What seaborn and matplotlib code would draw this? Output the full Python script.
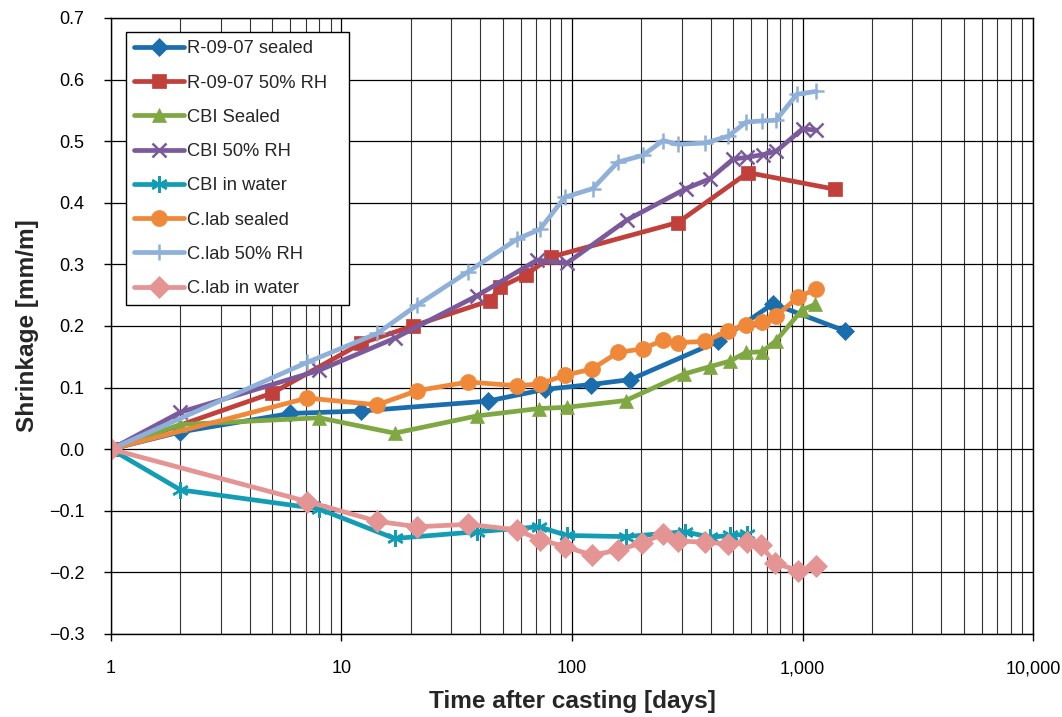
import numpy as np
import pandas as pd
import matplotlib
matplotlib.use("Agg")
import matplotlib.pyplot as plt
import seaborn as sns
from matplotlib.ticker import FuncFormatter, LogLocator, MultipleLocator

sns.set_theme(style="white")
plt.rcParams['font.family'] = ['Liberation Sans', 'DejaVu Sans']

# ---- data ----
r_sealed_t = [1, 2, 6, 12.2, 43, 76, 121, 179, 430, 745, 1528]
r_sealed_v = [0, 0.028, 0.058, 0.062, 0.078, 0.097, 0.105, 0.113, 0.175, 0.236, 0.192]

r_rh_t = [1, 5, 12.2, 20.4, 44, 48.7, 63, 81, 288, 580, 1384]
r_rh_v = [0, 0.091, 0.172, 0.200, 0.241, 0.263, 0.283, 0.312, 0.368, 0.449, 0.422]

cbi_sealed_t = [1, 2, 8, 17, 38.7, 72, 95, 171, 306, 397, 484, 569, 667, 767, 995, 1133]
cbi_sealed_v = [0, 0.040, 0.051, 0.026, 0.054, 0.066, 0.068, 0.079, 0.122, 0.134, 0.143,
                0.157, 0.158, 0.176, 0.226, 0.235]

cbi_rh_t = [1, 2, 8, 17, 38.7, 70.5, 95, 173, 312, 397, 500, 577, 671, 770, 1000, 1149]
cbi_rh_v = [0, 0.060, 0.128, 0.180, 0.249, 0.307, 0.302, 0.372, 0.423, 0.439, 0.471,
            0.474, 0.478, 0.484, 0.520, 0.518]

cbi_water_t = [1, 2, 8, 17, 38.7, 72, 95, 171, 309, 397, 484, 575]
cbi_water_v = [0, -0.066, -0.097, -0.145, -0.134, -0.126, -0.140, -0.142, -0.134,
               -0.143, -0.140, -0.138]

clab_sealed_t = [1, 7.1, 14.3, 21.3, 35.4, 57.7, 72.6, 93, 122, 158, 203, 248, 288,
                 378, 475, 569, 667, 767, 956, 1149]
clab_sealed_v = [0, 0.083, 0.072, 0.095, 0.109, 0.103, 0.106, 0.120, 0.130, 0.157,
                 0.163, 0.177, 0.173, 0.175, 0.192, 0.201, 0.206, 0.216, 0.247, 0.260]

clab_rh_t = [1, 7.1, 14.3, 21.3, 35.4, 57.7, 72.6, 93, 123, 158, 203, 248, 288, 378,
             475, 569, 667, 767, 945, 1149]
clab_rh_v = [0, 0.141, 0.188, 0.234, 0.288, 0.341, 0.357, 0.409, 0.423, 0.466, 0.477,
             0.501, 0.495, 0.497, 0.508, 0.531, 0.533, 0.534, 0.576, 0.581]

clab_water_t = [1, 7.1, 14.3, 21.3, 35.4, 57.7, 72.6, 93, 122, 158, 201, 248, 288,
                378, 475, 575, 660, 760, 956, 1149]
clab_water_v = [0, -0.085, -0.117, -0.126, -0.122, -0.131, -0.147, -0.158, -0.172,
                -0.164, -0.152, -0.138, -0.149, -0.151, -0.154, -0.150, -0.156,
                -0.185, -0.197, -0.190]

series = [
    ("R-09-07 sealed", r_sealed_t, r_sealed_v, "#1B6EAE", "D", 9),
    ("R-09-07 50% RH", r_rh_t, r_rh_v, "#C1403B", "s", 10.5),
    ("CBI Sealed", cbi_sealed_t, cbi_sealed_v, "#7FA843", "^", 10.5),
    ("CBI 50% RH", cbi_rh_t, cbi_rh_v, "#7B5A9C", "x", 10),
    ("CBI in water", cbi_water_t, cbi_water_v, "#139DB4", (6, 2, 0), 12),
    ("C.lab sealed", clab_sealed_t, clab_sealed_v, "#F0883A", "o", 11.5),
    ("C.lab 50% RH", clab_rh_t, clab_rh_v, "#8FB0D8", "+", 12),
    ("C.lab in water", clab_water_t, clab_water_v, "#E59494", "D", 11),
]

fig = plt.figure(figsize=(10.62, 7.17), dpi=100)
ax = fig.add_axes([0.1045, 0.1158, 0.8682, 0.8591])

for name, t, v, col, mk, ms in series:
    df = pd.DataFrame({"t": t, "v": v})
    lw_m = 1.8 if mk in ("x", "+") or isinstance(mk, tuple) else 0.5
    sns.lineplot(data=df, x="t", y="v", ax=ax, color=col, marker=mk, markersize=ms,
                 markeredgecolor=col, markerfacecolor=col, markeredgewidth=lw_m,
                 linewidth=3.4, label=name, sort=False, estimator=None)

ax.set_xscale("log")
ax.set_xlim(1, 10000)
ax.set_ylim(-0.3, 0.7)
ax.yaxis.set_major_locator(MultipleLocator(0.1))
ax.yaxis.set_major_formatter(FuncFormatter(lambda v, p: f"{v:.1f}".replace("-", "\u2212")))
ax.xaxis.set_major_locator(LogLocator(base=10, numticks=10))
ax.xaxis.set_minor_locator(LogLocator(base=10, subs=np.arange(2, 10), numticks=50))
ax.xaxis.set_major_formatter(FuncFormatter(lambda v, p: f"{v:,.0f}"))

ax.grid(True, which="major", axis="both", color="black", linewidth=0.9)
ax.grid(True, which="minor", axis="x", color="#333333", linewidth=0.8)
ax.set_axisbelow(True)

for s in ax.spines.values():
    s.set_color("black")
    s.set_linewidth(1.0)

ax.tick_params(axis="both", which="major", direction="out", length=5, width=1,
               color="black", labelsize=13, colors="black", bottom=True, left=True)
ax.tick_params(axis="x", which="minor", bottom=False)
ax.tick_params(axis="x", pad=14)
ax.tick_params(axis="y", pad=14)

ax.set_xlabel("Time after casting [days]", fontsize=17.6, fontweight="bold", labelpad=9)
ax.set_ylabel("Shrinkage [mm/m]", fontsize=17.6, fontweight="bold", labelpad=7)

leg = ax.legend(loc="upper left", bbox_to_anchor=(0.0163, 0.977, 0.2419, 0.0),
                mode="expand", borderaxespad=0,
                fontsize=13.2, frameon=True, fancybox=False, edgecolor="black",
                framealpha=1, handlelength=2.7, labelspacing=0.94, borderpad=0.45,
                handletextpad=0.2)
leg.get_frame().set_linewidth(1.0)

fig.savefig("out.png", dpi=100, facecolor="white")
